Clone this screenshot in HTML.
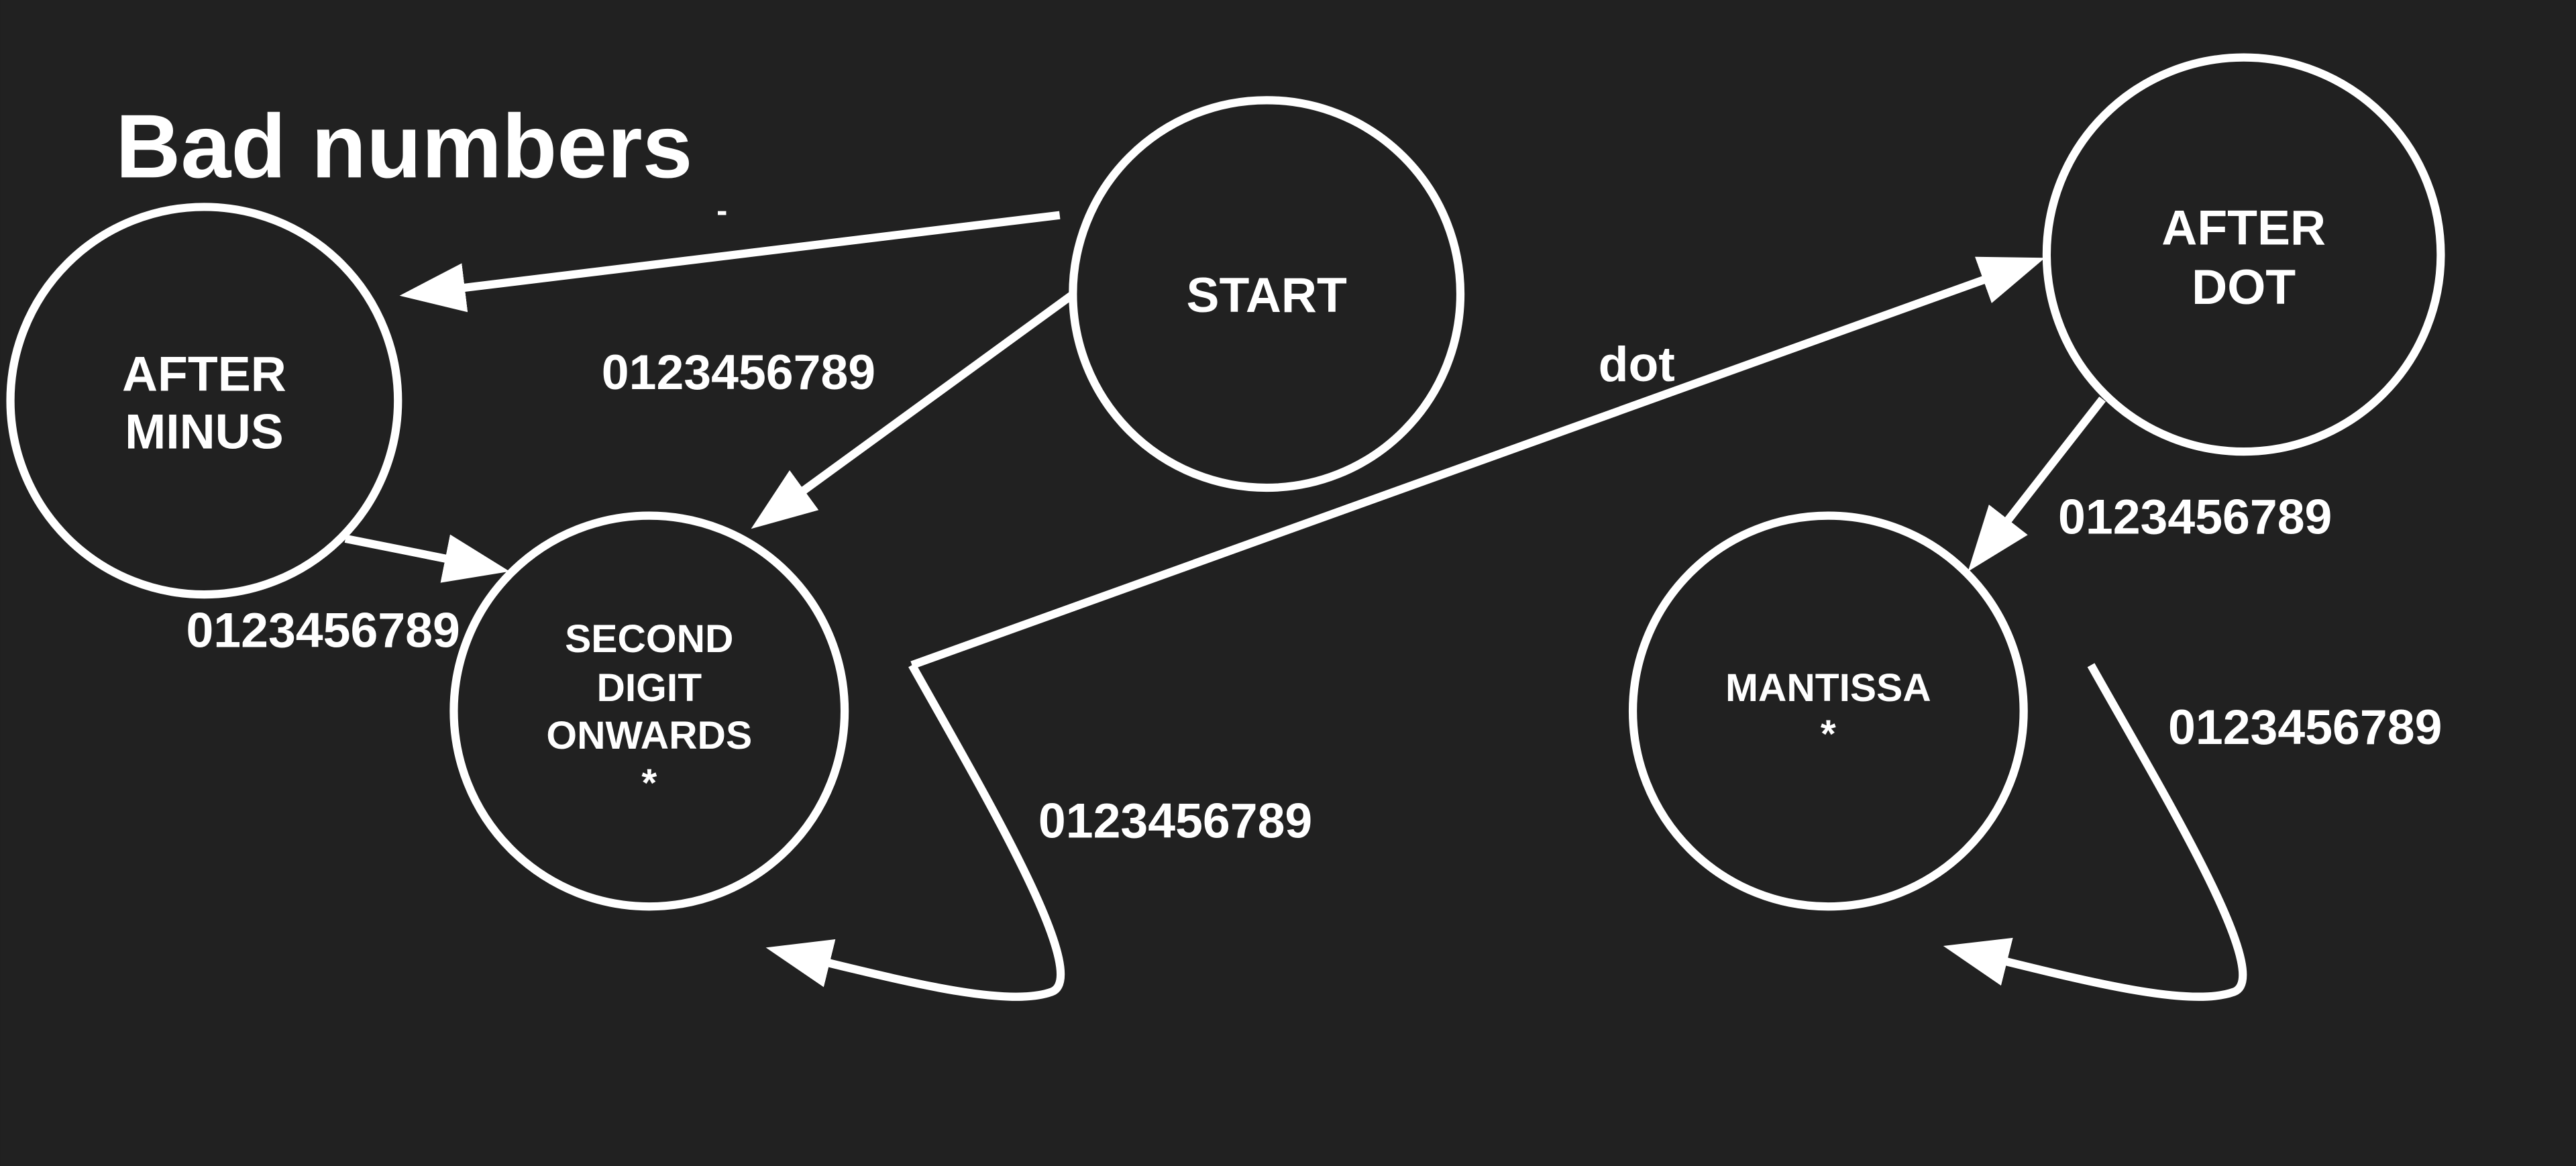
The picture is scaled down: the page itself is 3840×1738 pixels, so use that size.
<!DOCTYPE html>
<html><head><meta charset="utf-8"><style>
html,body{margin:0;padding:0;background:#212121;}
svg{display:block;}
text{font-family:"Liberation Sans",sans-serif;font-weight:bold;fill:#fff;}
</style></head><body>
<svg width="3840" height="1738" viewBox="0 0 1568 710" xmlns="http://www.w3.org/2000/svg">
<defs>
<marker id="ah" markerUnits="userSpaceOnUse" markerWidth="44" markerHeight="34" refX="5" refY="15" orient="auto">
<path d="M0,0 L40,15 L0,30 Z" fill="#fff"/>
</marker>
</defs>
<rect width="1568" height="710" fill="#212121"/>
<text x="70" y="108" font-size="55">Bad numbers</text>
<text x="436" y="135" font-size="20">-</text>
<g fill="none" stroke="#fff" stroke-width="5">
<circle cx="124" cy="244" r="118"/>
<circle cx="771" cy="179" r="118"/>
<circle cx="395" cy="433" r="119"/>
<circle cx="1366" cy="155" r="120"/>
<circle cx="1113" cy="433" r="119"/>
<line x1="645" y1="131" x2="277.7" y2="175.8" marker-end="url(#ah)"/>
<line x1="652" y1="180" x2="485.3" y2="301.4" marker-end="url(#ah)"/>
<line x1="210" y1="328" x2="275.7" y2="341.1" marker-end="url(#ah)"/>
<line x1="555" y1="405" x2="1212.1" y2="168.8" marker-end="url(#ah)"/>
<line x1="1280" y1="243" x2="1219.6" y2="320.4" marker-end="url(#ah)"/>
<path d="M555,405 C600,485 665,595 640,604 C615,613 560,600 500,585.3" marker-end="url(#ah)"/>
<path d="M1273,405 C1318,485 1385,595 1360,604 C1335,613 1280,600 1217,584.4" marker-end="url(#ah)"/>
</g>
<g font-size="30">
<text x="366" y="237">0123456789</text>
<text x="113" y="394">0123456789</text>
<text x="632" y="510">0123456789</text>
<text x="1253" y="325">0123456789</text>
<text x="1320" y="453">0123456789</text>
<text x="973" y="232">dot</text>
</g>
<g text-anchor="middle">
<text x="124" y="238" font-size="30">AFTER</text>
<text x="124" y="273" font-size="30">MINUS</text>
<text x="771" y="190" font-size="30">START</text>
<text x="1366" y="149" font-size="30">AFTER</text>
<text x="1366" y="185" font-size="30">DOT</text>
<text x="395" y="397" font-size="24">SECOND</text>
<text x="395" y="427" font-size="24">DIGIT</text>
<text x="395" y="456" font-size="24">ONWARDS</text>
<text x="395" y="485" font-size="24">*</text>
<text x="1113" y="427" font-size="24">MANTISSA</text>
<text x="1113" y="455" font-size="24">*</text>
</g>
</svg>
</body></html>
